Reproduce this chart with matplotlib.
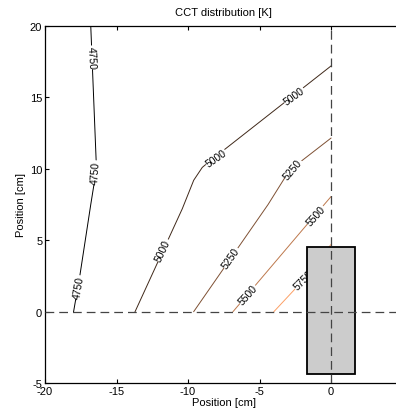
import matplotlib
matplotlib.use("Agg")
import matplotlib.pyplot as plt
from matplotlib.patches import Rectangle
import numpy as np

plt.rcParams["font.family"] = ["Liberation Sans", "DejaVu Sans"]
plt.rcParams["axes.unicode_minus"] = False

# contour levels [K] and their traced polylines (cm)
levels = [4750, 5000, 5250, 5500, 5750]
x_4750 = [-18.0, -17.55, -16.8, -16.4, -16.6, -16.8]
y_4750 = [0.0, 2.6, 7.5, 10.0, 15.0, 20.0]
x_5000 = [-13.7, -10.4, -9.6, -9.0, -8.4, 0.0]
y_5000 = [0.0, 7.2, 9.2, 10.1, 10.6, 17.2]
x_5250 = [-9.6, -4.4, -2.9, 0.0]
y_5250 = [0.0, 7.5, 9.9, 12.15]
x_5500 = [-6.85, -1.94, 0.0]
y_5500 = [0.0, 5.79, 8.05]
x_5750 = [-3.99, -2.5, 0.0]
y_5750 = [0.0, 1.6, 4.7]
lines_x = [x_4750, x_5000, x_5250, x_5500, x_5750]
lines_y = [y_4750, y_5000, y_5250, y_5500, y_5750]

# inline labels: level, x, y, rotation
label_level = [4750, 4750, 4750, 5000, 5000, 5000, 5250, 5250, 5500, 5500, 5750]
label_x = [-16.74, -16.43, -17.62, -11.75, -8.05, -2.57, -2.7, -7.0, -5.83, -1.05, -1.95]
label_y = [17.8, 9.76, 1.71, 4.3, 10.75, 15.1, 10.0, 3.76, 1.19, 6.72, 2.2]
label_rot = [-87, 86, 80, 65, 35, 36, 50, 55, 48, 48, 45]

# lamp body outline (cm)
box_x0, box_x1 = -1.7, 1.7
box_y0, box_y1 = -4.4, 4.5

fig = plt.figure(figsize=(3.96, 4.14), dpi=100)
ax = fig.add_axes([45 / 396, 30 / 414, 357.5 / 396, 357 / 414])

cmap = plt.get_cmap("copper")
norm = plt.Normalize(4750, 6000)
for lev, xs, ys in zip(levels, lines_x, lines_y):
    ax.plot(xs, ys, color=cmap(norm(lev)), linewidth=0.7, zorder=2)

for lev, lx, ly, rot in zip(label_level, label_x, label_y, label_rot):
    ax.text(lx, ly, str(lev), rotation=rot, rotation_mode="anchor",
            ha="center", va="center", fontsize=7.5, zorder=3,
            bbox=dict(facecolor="white", edgecolor="none", pad=0.3))

ax.add_patch(Rectangle((box_x0, box_y0), box_x1 - box_x0, box_y1 - box_y0,
                       facecolor="#cccccc", edgecolor="black", linewidth=1.3, zorder=4))

ax.axhline(0, color="#444444", linestyle=(0, (7, 4)), linewidth=0.9, zorder=5)
ax.axvline(0, color="#444444", linestyle=(0, (7, 4)), linewidth=0.9, zorder=5)

ax.set_xlim(-20, 5)
ax.set_ylim(-5, 20)
ax.set_xticks([-20, -15, -10, -5, 0])
ax.set_yticks([-5, 0, 5, 10, 15, 20])
ax.tick_params(direction="in", top=True, length=3, labelsize=8, pad=2)
ax.spines["right"].set_visible(False)
for s in ["left", "bottom", "top"]:
    ax.spines[s].set_linewidth(0.9)
ax.set_xlabel("Position [cm]", fontsize=8, labelpad=1)
ax.set_ylabel("Position [cm]", fontsize=8, labelpad=3)
ax.set_title("CCT distribution [K]", fontsize=8, pad=8)

fig.savefig("out.png", dpi=100)
